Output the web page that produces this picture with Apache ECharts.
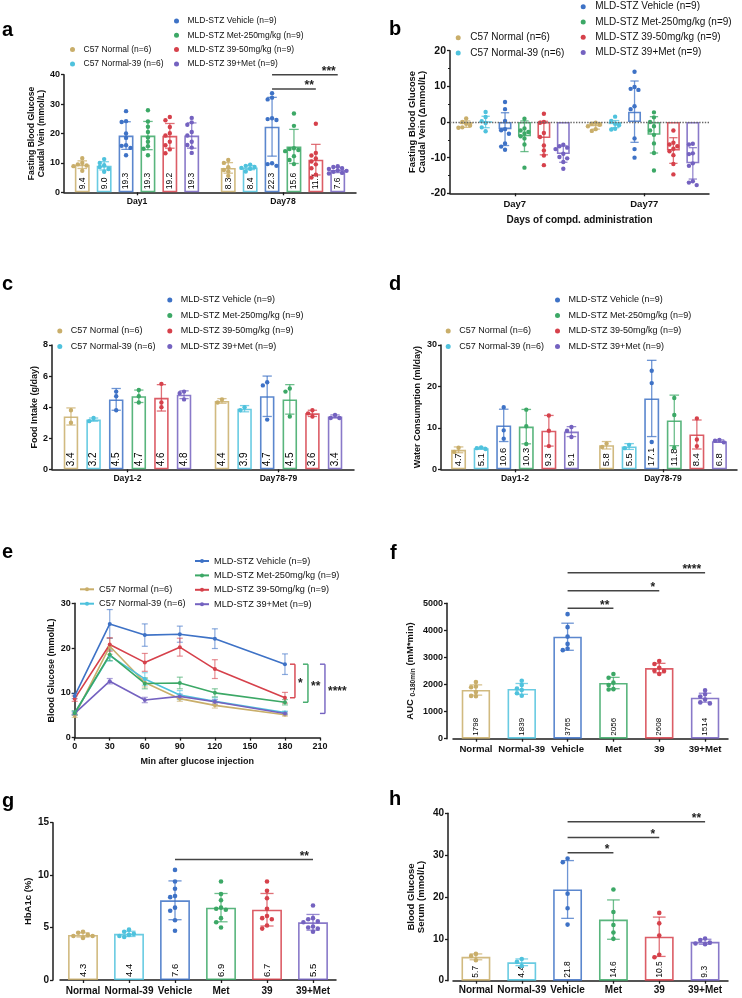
<!DOCTYPE html>
<html><head><meta charset="utf-8">
<script src="https://cdn.jsdelivr.net/npm/echarts@6/dist/echarts.min.js"></script>
<style>
html,body{margin:0;padding:0;background:#fff;}
.p{position:absolute;left:0;top:0;width:742px;height:998px;}
</style></head><body>
<div id="pa" class="p"></div><div id="pb" class="p"></div><div id="pc" class="p"></div><div id="pd" class="p"></div>
<div id="pe" class="p"></div><div id="pf" class="p"></div><div id="pg" class="p"></div><div id="ph" class="p"></div>
<script>
// ---------------- DATA ----------------
const GROUPS = ['C57 Normal (n=6)', 'C57 Normal-39 (n=6)', 'MLD-STZ Vehicle (n=9)', 'MLD-STZ Met-250mg/kg (n=9)', 'MLD-STZ 39-50mg/kg (n=9)', 'MLD-STZ 39+Met (n=9)'];
const SHORT = ['Normal', 'Normal-39', 'Vehicle', 'Met', '39', '39+Met'];
const COLORS = ['#C9AE6A', '#4FC2DD', '#3E72C6', '#3CA866', '#D6414B', '#7462C0'];

// a: fasting blood glucose, caudal vein
const A_DAYS = ['Day1', 'Day78'];
const A_MEAN_DAY1 = [9.4, 9.0, 19.3, 19.3, 19.2, 19.3];
const A_MEAN_DAY78 = [8.3, 8.4, 22.3, 15.6, 11.1, 7.6];
const A_SD_DAY1 = [1.3, 1.4, 4.7, 4.8, 4.2, 4.3];
const A_SD_DAY78 = [1.8, 0.7, 10.0, 5.8, 5.2, 0.9];
const A_PTS_DAY1 = [
  [11.6, 10.0, 9.5, 9.1, 8.9, 7.3],
  [11.3, 10.0, 9.2, 8.6, 7.9, 7.0],
  [27.6, 24.2, 23.9, 20.0, 18.5, 16.0, 15.8, 15.1, 12.6],
  [27.9, 24.1, 22.3, 20.5, 18.6, 17.2, 15.7, 14.8, 12.6],
  [25.6, 24.5, 22.2, 20.1, 19.3, 17.2, 16.0, 14.6, 13.3],
  [25.3, 23.8, 23.0, 20.5, 19.3, 17.2, 16.1, 15.2, 13.4]
];
const A_PTS_DAY78 = [
  [11.0, 10.0, 8.5, 7.6, 7.1, 5.6],
  [9.4, 9.0, 8.6, 8.3, 8.0, 7.1],
  [33.7, 32.2, 31.6, 25.2, 24.9, 24.6, 9.9, 9.6, 9.0],
  [26.8, 22.6, 15.0, 14.7, 14.4, 14.0, 12.3, 11.0, 9.6],
  [23.3, 13.4, 12.5, 11.5, 10.5, 9.5, 8.2, 6.0, 5.0],
  [8.9, 8.6, 8.2, 7.9, 7.5, 7.3, 7.0, 6.6, 6.4]
];
const A_SIG = [{day: 1, from: 2, to: 4, y: 35.1, text: '**'}, {day: 1, from: 2, to: 5, y: 40.0, text: '***'}];
const A_Y = [0, 40, 10];

// b: change of fasting blood glucose
const B_DAYS = ['Day7', 'Day77'];
const B_MEAN_DAY7 = [-0.6, 0.0, -2.0, -4.0, -4.5, -9.0];
const B_MEAN_DAY77 = [-1.2, -0.6, 2.9, -3.6, -8.0, -11.6];
const B_SD_DAY7 = [0.9, 1.6, 4.6, 4.3, 4.7, 2.3];
const B_SD_DAY77 = [0.8, 1.0, 8.6, 5.1, 3.6, 4.4];
const B_PTS_DAY7 = [
  [1.0, 0.0, -0.5, -1.0, -1.5, -1.6],
  [2.8, 1.4, 0.2, -0.3, -1.5, -2.6],
  [5.6, 3.6, 0.3, -2.0, -2.3, -3.3, -6.0, -6.9, -7.8],
  [0.9, -1.8, -2.4, -2.8, -3.2, -4.0, -4.6, -6.3, -12.8],
  [2.3, 0.0, -0.2, -3.1, -4.2, -6.6, -8.0, -9.4, -12.1],
  [-6.4, -6.8, -7.2, -7.6, -8.9, -9.8, -10.2, -11.2, -13.1]
];
const B_PTS_DAY77 = [
  [-0.2, -0.5, -0.8, -1.2, -2.0, -2.5],
  [1.5, 0.3, -0.5, -0.9, -1.9, -2.1],
  [14.1, 9.8, 9.3, 9.0, 4.4, 3.6, -4.6, -7.6, -10.0],
  [2.7, 1.3, 0.0, -1.2, -2.4, -3.6, -6.0, -8.7, -13.6],
  [-2.4, -5.8, -6.3, -6.8, -7.5, -8.2, -9.3, -11.8, -14.7],
  [-6.1, -6.3, -8.8, -9.0, -11.6, -12.3, -16.6, -17.0, -17.7]
];
const B_Y = [-20, 20, 10];

// c: food intake
const C_DAYS = ['Day1-2', 'Day78-79'];
const C_MEAN_D12 = [3.4, 3.2, 4.5, 4.7, 4.6, 4.8];
const C_MEAN_D7879 = [4.4, 3.9, 4.7, 4.5, 3.6, 3.4];
const C_SD_D12 = [0.55, 0.1, 0.7, 0.4, 0.85, 0.25];
const C_SD_D7879 = [0.15, 0.2, 1.3, 0.95, 0.2, 0.1];
const C_PTS_D12 = [[3.8, 3.0], [3.1, 3.3], [5.0, 4.7, 3.8], [5.1, 4.7, 4.3], [5.5, 4.3, 4.0], [5.0, 4.9, 4.5]];
const C_PTS_D7879 = [[4.5, 4.3], [4.0, 3.8], [5.6, 5.4, 3.2], [5.2, 5.0, 3.4], [3.8, 3.6, 3.4], [3.5, 3.3, 3.3]];
const C_Y = [0, 8, 2];

// d: water consumption
const D_DAYS = ['Day1-2', 'Day78-79'];
const D_MEAN_D12 = [4.7, 5.1, 10.6, 10.3, 9.3, 9.1];
const D_MEAN_D7879 = [5.8, 5.5, 17.1, 11.8, 8.4, 6.8];
const D_SD_D12 = [0.7, 0.2, 3.9, 4.15, 3.7, 1.2];
const D_SD_D7879 = [0.9, 0.7, 9.2, 6.1, 3.5, 0.3];
const D_PTS_D12 = [[5.2, 4.2], [5.3, 5.1, 4.9], [15.0, 9.4, 7.4], [14.4, 10.4, 6.1], [13.0, 9.3, 5.6], [10.2, 9.3, 7.8]];
const D_PTS_D7879 = [[6.2, 5.4], [5.9, 5.1], [23.8, 20.8, 6.6], [17.2, 13.1, 5.2], [12.3, 7.2, 5.6], [7.1, 6.9, 6.5]];
const D_Y = [0, 30, 10];

// e: glucose tolerance (mean, SEM)
const E_TIME = [0, 30, 60, 90, 120, 180];
const E_MEAN_NORMAL = [4.9, 20.4, 12.3, 8.7, 7.2, 5.1];
const E_MEAN_NORMAL39 = [5.5, 18.3, 13.1, 9.5, 8.1, 5.6];
const E_MEAN_VEHICLE = [9.3, 25.4, 22.9, 23.1, 22.1, 16.4];
const E_MEAN_MET = [5.5, 18.5, 12.1, 12.2, 10.0, 7.9];
const E_MEAN_C39 = [8.7, 20.8, 16.8, 20.2, 15.3, 8.9];
const E_MEAN_C39MET = [5.4, 12.6, 8.4, 9.2, 8.0, 5.4];
const E_SEM_NORMAL = [0.4, 1.8, 1.0, 0.6, 0.6, 0.3];
const E_SEM_NORMAL39 = [0.4, 1.2, 1.4, 1.0, 0.8, 0.3];
const E_SEM_VEHICLE = [0.6, 3.2, 2.5, 1.8, 2.2, 2.3];
const E_SEM_MET = [0.5, 1.3, 1.2, 1.3, 0.9, 0.6];
const E_SEM_C39 = [0.6, 1.5, 2.0, 2.0, 2.1, 1.2];
const E_SEM_C39MET = [0.3, 0.6, 0.6, 0.5, 0.5, 0.3];
const E_SIG = [{group: 4, text: '*'}, {group: 3, text: '**'}, {group: 5, text: '****'}];
const E_X = [0, 210, 30];
const E_Y = [0, 30, 10];

// f: AUC
const F_MEAN = [1798, 1839, 3765, 2056, 2608, 1514];
const F_SD = [190, 200, 500, 210, 175, 165];
const F_PTS = [
  [2090, 1930, 1900, 1720, 1580, 1570],
  [2140, 1980, 1850, 1800, 1680, 1584],
  [4600, 4120, 3770, 3500, 3330, 3270],
  [2390, 2250, 2070, 1980, 1830, 1816],
  [2870, 2760, 2620, 2510, 2500, 2388],
  [1790, 1640, 1560, 1450, 1340, 1304]
];
const F_SIG = [{from: 2, to: 3, y: 4817, text: '**'}, {from: 2, to: 4, y: 5467, text: '*'}, {from: 2, to: 5, y: 6132, text: '****'}];
const F_Y = [0, 5000, 1000];

// g: HbA1c
const G_MEAN = [4.3, 4.4, 7.6, 6.9, 6.7, 5.5];
const G_SD = [0.2, 0.25, 1.85, 1.35, 1.55, 0.75];
const G_PTS = [
  [4.6, 4.5, 4.3, 4.2, 4.2, 4.0],
  [4.8, 4.6, 4.4, 4.3, 4.2, 4.1],
  [10.5, 9.4, 8.7, 8.0, 7.9, 6.9, 6.6, 5.7, 4.7],
  [9.4, 8.2, 7.6, 6.9, 6.8, 6.7, 5.9, 5.5, 5.0],
  [9.4, 8.5, 7.8, 6.8, 6.1, 5.9, 5.8, 5.2, 4.9],
  [7.1, 5.9, 5.8, 5.6, 5.5, 5.1, 5.0, 4.9, 4.6]
];
const G_SIG = [{from: 2, to: 5, y: 11.5, text: '**'}];
const G_Y = [0, 15, 5];

// h: serum glucose
const H_MEAN = [5.7, 4.4, 21.8, 14.6, 10.5, 9.3];
const H_SD = [0.7, 0.8, 6.9, 4.7, 4.7, 0.6];
const H_PTS = [
  [6.4, 5.9, 4.9],
  [5.2, 4.5, 3.5],
  [29.2, 28.3, 20.8, 17.3, 13.4],
  [21.8, 16.4, 13.3, 11.5, 10.0],
  [16.2, 13.7, 10.8, 6.2, 5.6],
  [10.1, 9.7, 9.1, 8.9, 8.7]
];
const H_SIG = [{from: 2, to: 3, y: 30.6, text: '*'}, {from: 2, to: 4, y: 34.2, text: '*'}, {from: 2, to: 5, y: 38.0, text: '**'}];
const H_Y = [0, 40, 10];

// ---------------- RENDERING ----------------
const FONT = '"Liberation Sans", Arial, Helvetica, sans-serif';
const AXC = '#1c1c1c';
function rgba(hex, a) { const n = parseInt(hex.slice(1), 16); return 'rgba(' + ((n >> 16) & 255) + ',' + ((n >> 8) & 255) + ',' + (n & 255) + ',' + a + ')'; }

// deterministic beeswarm placement (in units of dot spacing)
function swarm(vals, thr) {
  const idx = vals.map((v, i) => i).sort((a, b) => vals[b] - vals[a]);
  const placed = [], out = new Array(vals.length).fill(0);
  const cands = [0, -1, 1, -2, 2, -3, 3];
  idx.forEach(i => {
    for (const c of cands) {
      if (placed.every(p => Math.abs(vals[p.i] - vals[i]) >= thr || Math.abs(p.c - c) >= 1)) { out[i] = c; placed.push({i, c}); break; }
    }
  });
  return out;
}

function letter(ch, x, y) {
  return {type: 'text', x: x, y: y, silent: true, style: {text: ch, font: 'bold 20px ' + FONT, fill: '#000', verticalAlign: 'middle'}};
}
function yAx(o) {
  return {type: 'value', min: o.r[0], max: o.r[1], interval: o.r[2], offset: o.offset || 0,
    axisLine: {show: true, onZero: false, lineStyle: {color: AXC, width: 1.5}},
    axisTick: {show: true, length: 3, lineStyle: {color: AXC, width: 1.3}},
    minorTick: o.minor ? {show: true, splitNumber: 2, length: 2, lineStyle: {color: AXC, width: 1.1}} : {show: false},
    splitLine: {show: false},
    axisLabel: {fontSize: o.tick, fontWeight: 'bold', color: '#111', fontFamily: FONT, margin: 4, formatter: v => String(v)},
    name: o.name, nameLocation: 'middle', nameGap: o.gap,
    nameTextStyle: {fontSize: o.nameSize, fontWeight: 'bold', color: '#111', fontFamily: FONT, lineHeight: o.nameLH || o.nameSize * 1.1, rich: o.rich}};
}
function xCat(o) {
  return {type: 'category', data: o.cats,
    axisLine: {onZero: false, lineStyle: {color: AXC, width: 1.5}},
    axisTick: {show: true, alignWithLabel: true, length: 3, lineStyle: {color: AXC, width: 1.3}},
    axisLabel: {interval: 0, fontSize: o.tick, fontWeight: 'bold', color: '#111', fontFamily: FONT, margin: o.margin || 5},
    name: o.name || '', nameLocation: 'middle', nameGap: o.gap || 20,
    nameTextStyle: {fontSize: o.nameSize || 9, fontWeight: 'bold', color: '#111', fontFamily: FONT}};
}
function legends(o) {
  const mk = (ids, left, top) => ({left: left, top: top, orient: 'vertical', padding: 0, itemGap: o.pitch - o.lh,
    itemWidth: o.iw, itemHeight: o.ih, selectedMode: false,
    textStyle: {fontSize: o.fs, color: '#111', fontFamily: FONT, lineHeight: o.lh},
    data: ids.map(s => o.line ? {name: GROUPS[s]} : {name: GROUPS[s], icon: 'circle', itemStyle: {color: COLORS[s], borderWidth: 0}})});
  return [mk([0, 1], o.l1, o.t1), mk([2, 3, 4, 5], o.l2, o.t2)];
}
function sigText(x, y, t) {
  return {type: 'text', x: x, y: y, style: {text: t, font: 'bold 12px ' + FONT, fill: '#222', align: 'right', verticalAlign: 'middle'}};
}

// grouped bar panel (two time points x six groups)
function groupedPanel(o) {
  const step = o.barW * (1 + o.gap);
  const series = [];
  GROUPS.forEach((g, s) => {
    const bar = {type: 'bar', name: g, barWidth: (o.barW * 100) + '%', barGap: (o.gap * 100) + '%', silent: true, z: 2,
      data: o.means.map(m => m[s]),
      itemStyle: {color: 'rgba(255,255,255,0)', borderColor: rgba(COLORS[s], 0.85), borderWidth: 1.6},
      label: o.labelSize ? {show: true, position: 'insideBottom', rotate: 90, align: 'left', verticalAlign: 'middle', distance: 3,
        fontSize: o.labelSize, color: '#000', fontFamily: FONT, formatter: p => Number(p.value).toFixed(1)} : {show: false}};
    if (s === 0 && o.zeroLine) bar.markLine = {silent: true, symbol: ['none', 'none'], label: {show: false},
      lineStyle: {type: 'dotted', color: '#666', width: 1.4}, data: [{yAxis: 0}]};
    series.push(bar);
  });
  GROUPS.forEach((g, s) => {
    series.push({type: 'custom', z: 3, silent: true, data: o.means.map((m, i) => [i, m[s], o.sds[i][s]]),
      renderItem: (p, api) => {
        const i = api.value(0), m = api.value(1), sd = api.value(2);
        const bw = api.size([1, 0])[0];
        const x = api.coord([i, m])[0] + (s - 2.5) * bw * step;
        const yt = api.coord([i, m + sd])[1], yb = api.coord([i, m - sd])[1];
        const cap = bw * o.barW * 0.32;
        const st = {stroke: rgba(COLORS[s], 0.75), lineWidth: 1.3};
        return {type: 'group', children: [
          {type: 'line', shape: {x1: x, y1: yt, x2: x, y2: yb}, style: st},
          {type: 'line', shape: {x1: x - cap, y1: yt, x2: x + cap, y2: yt}, style: st},
          {type: 'line', shape: {x1: x - cap, y1: yb, x2: x + cap, y2: yb}, style: st}]};
      }});
  });
  const thr = (o.r[1] - o.r[0]) * 0.034;
  GROUPS.forEach((g, s) => {
    const data = [];
    o.pts.forEach((pp, i) => { const offs = swarm(pp[s], thr); pp[s].forEach((v, k) => data.push([i, v, offs[k]])); });
    series.push({type: 'custom', z: 4, silent: true, data: data, renderItem: (p, api) => {
      const i = api.value(0), v = api.value(1), j = api.value(2);
      const bw = api.size([1, 0])[0];
      const c = api.coord([i, v]);
      const sp = Math.min(bw * o.barW * 0.3, 4.4);
      return {type: 'circle', shape: {cx: c[0] + (s - 2.5) * bw * step + j * sp, cy: c[1], r: 2.2}, style: {fill: COLORS[s]}};
    }});
  });
  if (o.sig) {
    series.push({type: 'custom', z: 5, silent: true, data: o.sig.map(d => [d.day, d.y]), renderItem: (p, api) => {
      const d = o.sig[p.dataIndex];
      const bw = api.size([1, 0])[0];
      const c = api.coord([d.day, d.y]);
      const x1 = c[0] + (d.from - 2.5) * bw * step, x2 = c[0] + (d.to - 2.5) * bw * step;
      return {type: 'group', children: [
        {type: 'line', shape: {x1: x1, y1: c[1], x2: x2, y2: c[1]}, style: {stroke: '#444', lineWidth: 1.5}},
        sigText(x2 - 2, c[1] - 3, d.text)]};
    }});
  }
  return {animation: false, textStyle: {fontFamily: FONT},
    graphic: [letter(o.letter[0], o.letter[1], o.letter[2])],
    legend: legends(o.leg),
    grid: Object.assign({containLabel: false}, o.grid),
    xAxis: xCat(o.x), yAxis: yAx(o.y), series: series};
}

// single-factor bar panel (six groups)
function simplePanel(o) {
  const series = [];
  series.push({type: 'bar', barWidth: (o.barW * 100) + '%', silent: true, z: 2,
    data: o.means.map((v, i) => ({value: v, itemStyle: {borderColor: rgba(COLORS[i], 0.85)}})),
    itemStyle: {color: 'rgba(255,255,255,0)', borderWidth: 1.6},
    label: {show: true, position: 'insideBottom', rotate: 90, align: 'left', verticalAlign: 'middle', distance: 3,
      fontSize: o.labelSize, color: '#000', fontFamily: FONT, formatter: p => o.fmt(p.value)}});
  series.push({type: 'custom', z: 3, silent: true, data: o.means.map((m, i) => [i, m, o.sds[i]]), renderItem: (p, api) => {
    const i = api.value(0), m = api.value(1), sd = api.value(2);
    const bw = api.size([1, 0])[0];
    const x = api.coord([i, m])[0];
    const yt = api.coord([i, m + sd])[1], yb = api.coord([i, m - sd])[1];
    const cap = bw * o.barW * 0.22;
    const st = {stroke: rgba(COLORS[i], 0.75), lineWidth: 1.3};
    return {type: 'group', children: [
      {type: 'line', shape: {x1: x, y1: yt, x2: x, y2: yb}, style: st},
      {type: 'line', shape: {x1: x - cap, y1: yt, x2: x + cap, y2: yt}, style: st},
      {type: 'line', shape: {x1: x - cap, y1: yb, x2: x + cap, y2: yb}, style: st}]};
  }});
  const thr = (o.r[1] - o.r[0]) * 0.03;
  const data = [];
  o.pts.forEach((pp, i) => { const offs = swarm(pp, thr); pp.forEach((v, k) => data.push([i, v, offs[k]])); });
  series.push({type: 'custom', z: 4, silent: true, data: data, renderItem: (p, api) => {
    const i = api.value(0), v = api.value(1), j = api.value(2);
    const c = api.coord([i, v]);
    return {type: 'circle', shape: {cx: c[0] + j * 4.8, cy: c[1], r: 2.3}, style: {fill: COLORS[i]}};
  }});
  series.push({type: 'custom', z: 5, silent: true, data: o.sig.map(d => [d.from, d.y]), renderItem: (p, api) => {
    const d = o.sig[p.dataIndex];
    const a = api.coord([d.from, d.y]), b = api.coord([d.to, d.y]);
    return {type: 'group', children: [
      {type: 'line', shape: {x1: a[0], y1: a[1], x2: b[0], y2: b[1]}, style: {stroke: '#444', lineWidth: 1.5}},
      sigText(b[0] - 4, a[1] - 3, d.text)]};
  }});
  return {animation: false, textStyle: {fontFamily: FONT},
    graphic: [letter(o.letter[0], o.letter[1], o.letter[2])],
    grid: o.grid, xAxis: xCat(o.x), yAxis: yAx(o.y), series: series};
}

// ---- panel a
echarts.init(document.getElementById('pa')).setOption(groupedPanel({
  letter: ['a', 2, 30.3], grid: {left: 64, top: 74.7, width: 292, height: 117.6},
  means: [A_MEAN_DAY1, A_MEAN_DAY78], sds: [A_SD_DAY1, A_SD_DAY78], pts: [A_PTS_DAY1, A_PTS_DAY78],
  barW: 0.102, gap: 0.47, r: A_Y, labelSize: 8.5, sig: A_SIG,
  x: {cats: A_DAYS, tick: 8.6, margin: 5},
  y: {r: A_Y, tick: 9, name: 'Fasting Blood Glucose\nCaudal Vein (mmol/L)', gap: 15, nameSize: 8.6, nameLH: 9.5},
  leg: {fs: 8.5, lh: 10, pitch: 14.3, iw: 12, ih: 5, l1: 70, t1: 44.6, l2: 174, t2: 16}
}));
// ---- panel b
echarts.init(document.getElementById('pb')).setOption(groupedPanel({
  letter: ['b', 389, 29], grid: {left: 450, top: 50.7, width: 259, height: 142.6},
  means: [B_MEAN_DAY7, B_MEAN_DAY77], sds: [B_SD_DAY7, B_SD_DAY77], pts: [B_PTS_DAY7, B_PTS_DAY77],
  barW: 0.10, gap: 0.5, r: B_Y, labelSize: 0, zeroLine: true,
  x: {cats: B_DAYS, tick: 9.5, margin: 6, name: 'Days of compd. administration', gap: 22, nameSize: 10},
  y: {r: B_Y, tick: 10.5, minor: true, name: 'Fasting Blood Glucose\nCaudal Vein (Δmmol/L)', gap: 23, nameSize: 9.4, nameLH: 10},
  leg: {fs: 10, lh: 11, pitch: 15.3, iw: 14, ih: 5, l1: 455.7, t1: 32.2, l2: 580.7, t2: 1.2}
}));
// ---- panel c
echarts.init(document.getElementById('pc')).setOption(groupedPanel({
  letter: ['c', 2, 284.7], grid: {left: 52, top: 345, width: 302, height: 124.3},
  means: [C_MEAN_D12, C_MEAN_D7879], sds: [C_SD_D12, C_SD_D7879], pts: [C_PTS_D12, C_PTS_D7879],
  barW: 0.096, gap: 0.56, r: C_Y, labelSize: 10,
  x: {cats: C_DAYS, tick: 8.6, margin: 5},
  y: {r: C_Y, tick: 9, name: 'Food Intake (g/day)', gap: 12, nameSize: 9},
  leg: {fs: 9, lh: 10, pitch: 15.5, iw: 12, ih: 5, l1: 57.3, t1: 326, l2: 167.3, t2: 295}
}));
// ---- panel d
echarts.init(document.getElementById('pd')).setOption(groupedPanel({
  letter: ['d', 389, 284.7], grid: {left: 441, top: 345, width: 296, height: 124.3},
  means: [D_MEAN_D12, D_MEAN_D7879], sds: [D_SD_D12, D_SD_D7879], pts: [D_PTS_D12, D_PTS_D7879],
  barW: 0.101, gap: 0.51, r: D_Y, labelSize: 9.5,
  x: {cats: D_DAYS, tick: 8.6, margin: 5},
  y: {r: D_Y, tick: 9, name: 'Water Consumption (ml/day)', gap: 19, nameSize: 9},
  leg: {fs: 9, lh: 10, pitch: 15.5, iw: 12, ih: 5, l1: 445.7, t1: 326, l2: 555, t2: 295}
}));
// ---- panel e
(function () {
  const means = [E_MEAN_NORMAL, E_MEAN_NORMAL39, E_MEAN_VEHICLE, E_MEAN_MET, E_MEAN_C39, E_MEAN_C39MET];
  const sems = [E_SEM_NORMAL, E_SEM_NORMAL39, E_SEM_VEHICLE, E_SEM_MET, E_SEM_C39, E_SEM_C39MET];
  const series = [];
  GROUPS.forEach((g, s) => {
    series.push({type: 'custom', z: 2, silent: true, data: E_TIME.map((t, k) => [t, means[s][k], sems[s][k]]), renderItem: (p, api) => {
      const t = api.value(0), m = api.value(1), se = api.value(2);
      const a = api.coord([t, m + se]), b = api.coord([t, m - se]);
      const st = {stroke: rgba(COLORS[s], 0.6), lineWidth: 1.2};
      return {type: 'group', children: [
        {type: 'line', shape: {x1: a[0], y1: a[1], x2: b[0], y2: b[1]}, style: st},
        {type: 'line', shape: {x1: a[0] - 3, y1: a[1], x2: a[0] + 3, y2: a[1]}, style: st},
        {type: 'line', shape: {x1: b[0] - 3, y1: b[1], x2: b[0] + 3, y2: b[1]}, style: st}]};
    }});
  });
  [0, 1, 5, 3, 4, 2].forEach(s => {
    series.push({type: 'line', name: GROUPS[s], z: 3, silent: true, data: E_TIME.map((t, k) => [t, means[s][k]]),
      symbol: 'circle', symbolSize: 4, showSymbol: true,
      lineStyle: {width: 1.6, color: COLORS[s]}, itemStyle: {color: COLORS[s]}});
  });
  const OFFS = [10, 23, 40];
  const last = E_TIME.length - 1;
  series.push({type: 'custom', z: 5, silent: true, data: E_SIG.map(d => [E_TIME[last], means[2][last], means[d.group][last]]), renderItem: (p, api) => {
    const d = E_SIG[p.dataIndex];
    const a = api.coord([api.value(0), api.value(1)]), b = api.coord([api.value(0), api.value(2)]);
    const x = a[0] + OFFS[p.dataIndex];
    const st = {stroke: COLORS[d.group], lineWidth: 1.4};
    return {type: 'group', children: [
      {type: 'line', shape: {x1: x - 5, y1: a[1], x2: x, y2: a[1]}, style: st},
      {type: 'line', shape: {x1: x, y1: a[1], x2: x, y2: b[1]}, style: st},
      {type: 'line', shape: {x1: x - 5, y1: b[1], x2: x, y2: b[1]}, style: st},
      {type: 'text', x: x + 3, y: (a[1] + b[1]) / 2 + 3, style: {text: d.text, font: 'bold 12px ' + FONT, fill: '#222', align: 'left', verticalAlign: 'middle'}}]};
  }});
  echarts.init(document.getElementById('pe')).setOption({animation: false, textStyle: {fontFamily: FONT},
    graphic: [letter('e', 2, 552.3)],
    legend: legends({line: true, fs: 9.2, lh: 10, pitch: 14.4, iw: 14, ih: 5, l1: 79, t1: 584.3, l2: 194, t2: 556}),
    grid: {left: 74.7, top: 603.3, width: 245.3, height: 134.3},
    xAxis: yAx({r: E_X, tick: 9, name: 'Min after glucose injection', gap: 19, nameSize: 9}),
    yAxis: yAx({r: E_Y, tick: 9, name: 'Blood Glucose (mmol/L)', gap: 18, nameSize: 9}),
    series: series});
})();
// ---- panel f
echarts.init(document.getElementById('pf')).setOption(simplePanel({
  letter: ['f', 390, 553], grid: {left: 453, top: 603.3, width: 275, height: 135.4},
  means: F_MEAN, sds: F_SD, pts: F_PTS, sig: F_SIG, r: F_Y, barW: 0.62, labelSize: 8, fmt: v => String(Math.round(v)),
  x: {cats: SHORT, tick: 9.6, margin: 6},
  y: {r: F_Y, tick: 9, offset: 6, name: '{a|AUC }{s|0-180min}{a| (mM*min)}', gap: 31, nameSize: 9.5,
      rich: {a: {fontSize: 9.5, fontWeight: 'bold', fontFamily: FONT, color: '#111'}, s: {fontSize: 6.5, fontWeight: 'bold', fontFamily: FONT, color: '#111', padding: [4, 0, 0, 0]}}}
}));
// ---- panel g
echarts.init(document.getElementById('pg')).setOption(simplePanel({
  letter: ['g', 2, 801], grid: {left: 60, top: 822.7, width: 276, height: 157.3},
  means: G_MEAN, sds: G_SD, pts: G_PTS, sig: G_SIG, r: G_Y, barW: 0.65, labelSize: 9.5, fmt: v => Number(v).toFixed(1),
  x: {cats: SHORT, tick: 10, margin: 6},
  y: {r: G_Y, tick: 10, offset: 7, name: 'HbA1c (%)', gap: 18, nameSize: 9.5}
}));
// ---- panel h
echarts.init(document.getElementById('ph')).setOption(simplePanel({
  letter: ['h', 389, 799.7], grid: {left: 453, top: 813.3, width: 275, height: 167.4},
  means: H_MEAN, sds: H_SD, pts: H_PTS, sig: H_SIG, r: H_Y, barW: 0.63, labelSize: 8.5, fmt: v => Number(v).toFixed(1),
  x: {cats: SHORT, tick: 10, margin: 5},
  y: {r: H_Y, tick: 10, offset: 5, name: 'Blood Glucose\nSerum (mmol/L)', gap: 21, nameSize: 9.5, nameLH: 10.5}
}));
</script>
</body></html>
